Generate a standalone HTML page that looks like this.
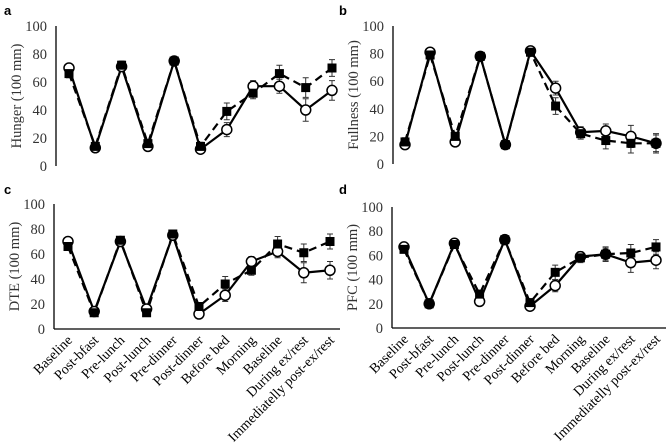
<!DOCTYPE html>
<html><head><meta charset="utf-8"><style>
body{margin:0;background:#fff;}
svg{display:block;font-family:"Liberation Serif",serif;}
</style></head><body>
<svg id="c" width="669" height="447"></svg>
<script>
const categories=["Baseline","Post-bfast","Pre-lunch","Post-lunch","Pre-dinner","Post-dinner","Before bed","Morning","Baseline","During ex/rest","Immediatelly post-ex/rest"];
const yTicks=[0,20,40,60,80,100];
const hungerCircle=[70,13,71,14,75,12,26,57,57,40,54];
const hungerSquare=[66,14,72,16,75,14,39,52,66,56,70];
const fullCircle=[14,81,16,78,14,82,55,23,24,20,15];
const fullSquare=[16,79,20,78,14,81,42,22,17,15,15];
const dteCircle=[70,14,70,16,75,12,27,54,62,45,47];
const dteSquare=[66,13,71,13,76,18,36,47,68,61,70];
const pfcCircle=[67,20,70,22,73,18,35,59,61,54,56];
const pfcSquare=[65,20,69,28,73,21,46,58,61,62,67];
const errC=[3,3,3,3,3,3,5,4,5,8,7];
const errS=[3,3,3,3,3,3,6,4,6,7,6];
const panels=[
 {letter:"a",lx:4,ly:15,ax:56,x0:69,x1:332,yTop:26,yBot:166,title:"Hunger (100 mm)",c:hungerCircle,s:hungerSquare,xaxis:false},
 {letter:"b",lx:339,ly:15,ax:393,x0:405,x1:656,yTop:26,yBot:164,title:"Fullness (100 mm)",c:fullCircle,s:fullSquare,xaxis:false},
 {letter:"c",lx:4,ly:194,ax:54,x0:68,x1:330,yTop:204,yBot:329,title:"DTE (100 mm)",c:dteCircle,s:dteSquare,xaxis:true},
 {letter:"d",lx:339,ly:194,ax:392,x0:404,x1:656,yTop:207,yBot:328,title:"PFC (100 mm)",c:pfcCircle,s:pfcSquare,xaxis:true}
];
const svg=document.getElementById('c');
const NS="http://www.w3.org/2000/svg";
function mk(t,a,p){const e=document.createElementNS(NS,t);for(const k in a)e.setAttribute(k,a[k]);(p||svg).appendChild(e);return e;}
panels.forEach(p=>{
 const g=mk('g',{});
 
 
 const xs=i=>p.x0+(p.x1-p.x0)*i/(categories.length-1);
 const ys=v=>p.yBot-(p.yBot-p.yTop)*v/100;
 const L=mk('text',{x:p.lx,y:p.ly,'font-family':'Liberation Sans,sans-serif','font-weight':'bold','font-size':13},g);L.textContent=p.letter;
 
 
 const ya=mk('line',{x1:p.ax,x2:p.ax,y1:p.yTop,y2:p.yBot,stroke:'#000','stroke-width':1.3},g);
 
 
 if(p.xaxis){const xa=mk('line',{x1:p.ax,x2:p.x1+10,y1:p.yBot,y2:p.yBot,stroke:'#000','stroke-width':1.3},g);
  
  
  categories.forEach((c,i)=>{const t=mk('text',{x:0,y:0,'text-anchor':'end','font-size':14,transform:`translate(${xs(i)+5},${p.yBot+12}) rotate(-45)`},g);t.textContent=c;
   
   });}
 yTicks.forEach(v=>{const t=mk('text',{x:p.ax-9,y:ys(v)+5,'text-anchor':'end','font-size':14.5,fill:'#333'},g);t.textContent=v;
  
  });
 const yt=mk('text',{x:0,y:0,'text-anchor':'middle','font-size':14.5,fill:'#333',transform:`translate(${p.ax-35},${(p.yTop+p.yBot)/2}) rotate(-90)`},g);yt.textContent=p.title;
 
 
 const pts=a=>a.map((v,i)=>xs(i)+','+ys(v)).join(' ');
 [[p.c,errC],[p.s,errS]].forEach(([a,e])=>a.forEach((v,i)=>{
  const x=xs(i);const eb=mk('path',{d:`M${x},${ys(v)} V${ys(v+e[i])} M${x-3},${ys(v+e[i])} H${x+3} M${x},${ys(v)} V${ys(v-e[i])} M${x-3},${ys(v-e[i])} H${x+3}`,stroke:'#333','stroke-width':1,fill:'none'},g);
  
  }));
 const ls=mk('polyline',{points:pts(p.s),fill:'none',stroke:'#000','stroke-width':2.2,'stroke-dasharray':'8,5'},g);
 
 
 const lc=mk('polyline',{points:pts(p.c),fill:'none',stroke:'#000','stroke-width':2.2},g);
 
 
 p.c.forEach((v,i)=>{const c=mk('circle',{cx:xs(i),cy:ys(v),r:5,fill:'#fff',stroke:'#000','stroke-width':1.5},g);
  
  });
 p.s.forEach((v,i)=>{const r=mk('rect',{x:xs(i)-4.5,y:ys(v)-4.5,width:9,height:9,fill:'#000'},g);
  
  });
});
</script>
</body></html>
